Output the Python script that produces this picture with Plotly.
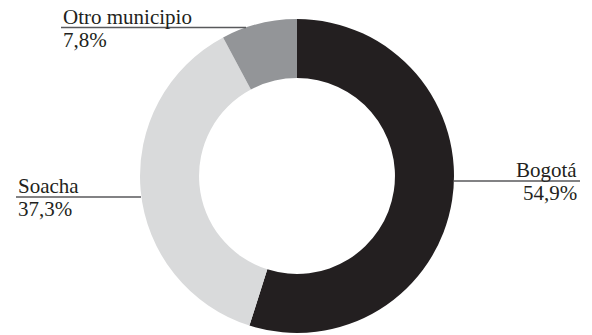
import plotly.graph_objects as go

# Lugar de residencia (participación %)
labels = ["Bogotá", "Soacha", "Otro municipio"]
values = [54.9, 37.3, 7.8]
colors = ["#231f20", "#d9dadb", "#939598"]

W, H = 592, 335
FONT = "'Liberation Serif', 'Times New Roman', serif"
TXT = "#231f20"
FS = 21

def px(x):
    return x / W

def py(y):
    return 1 - y / H

fig = go.Figure(go.Pie(
    labels=labels,
    values=values,
    sort=False,
    direction="clockwise",
    rotation=0,
    hole=0.624,
    marker=dict(colors=colors, line=dict(width=0)),
    textinfo="none",
    hoverinfo="label+percent",
    domain=dict(x=[px(140), px(454)], y=[py(333), py(19)]),
    showlegend=False,
))

def fmt(v):
    return f"{v:.1f}".replace(".", ",") + "%"

# label placement: (leader x0, x1, y, text anchor x, align)
placement = {
    "Otro municipio": (61, 246, 27.5, 61, "left"),
    "Bogotá": (454, 580, 181, 579, "right"),
    "Soacha": (16, 141, 197, 16, "left"),
}

shapes = []
annotations = []
for lab, val in zip(labels, values):
    x0, x1, y, tx, al = placement[lab]
    shapes.append(dict(type="line", xref="paper", yref="paper",
                       x0=px(x0), x1=px(x1), y0=py(y), y1=py(y),
                       line=dict(color="#58595b", width=1.3)))
    annotations.append(dict(x=px(tx), y=py(y), xref="paper", yref="paper",
                            text=lab, showarrow=False, xanchor=al,
                            yanchor="bottom", yshift=-3,
                            font=dict(family=FONT, size=FS, color=TXT)))
    annotations.append(dict(x=px(tx), y=py(y), xref="paper", yref="paper",
                            text=fmt(val), showarrow=False, xanchor=al,
                            yanchor="top", yshift=2,
                            font=dict(family=FONT, size=FS, color=TXT)))

fig.update_layout(
    width=W, height=H,
    margin=dict(l=0, r=0, t=0, b=0),
    paper_bgcolor="white",
    plot_bgcolor="white",
    shapes=shapes,
    annotations=annotations,
)

fig.write_html("out.html")
